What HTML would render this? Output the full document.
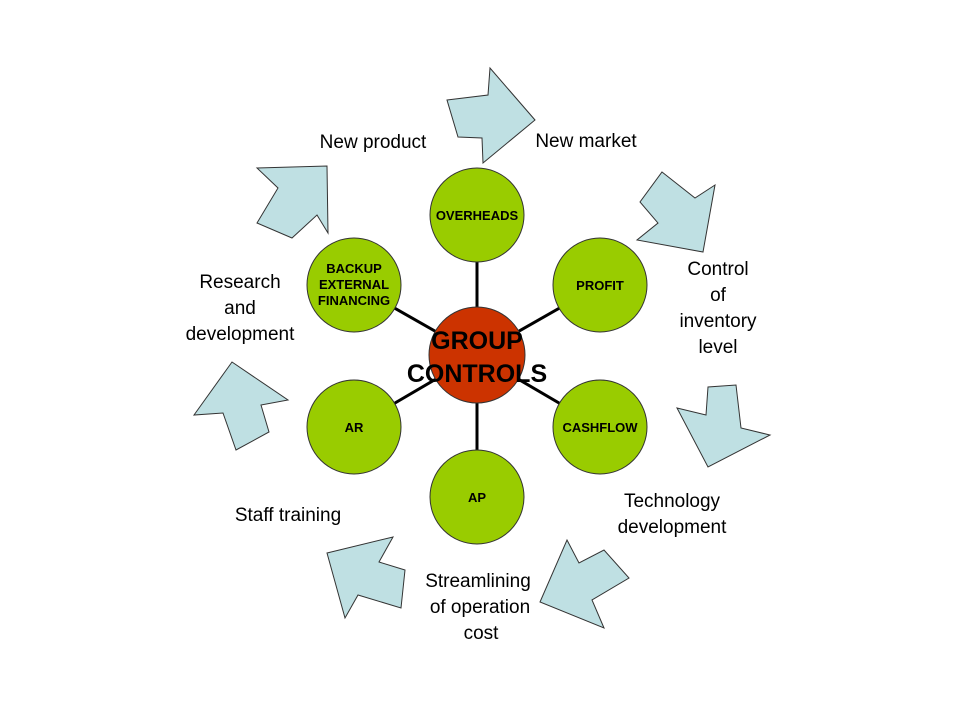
<!DOCTYPE html>
<html><head><meta charset="utf-8"><style>
html,body{margin:0;padding:0;background:#fff;}
svg{display:block;}
text{font-family:"Liberation Sans",Arial,sans-serif;}
.lbl{font-size:19px;fill:#000;text-anchor:middle;}
.c{font-size:13px;font-weight:bold;fill:#000;text-anchor:middle;}
</style></head><body>
<svg width="960" height="720" viewBox="0 0 960 720" xmlns="http://www.w3.org/2000/svg">
<g fill="#bfe0e3" stroke="#333" stroke-width="1">
<polygon points="447,100 488,95 490,68 535,120 483,163 482,138 458,137"/>
<polygon points="257,168 327,166 328,233 317,215 292,238 257,223 278,188"/>
<polygon points="662,172 695,198 715,185 703,252 637,240 658,223 640,202"/>
<polygon points="232,362 288,400 261,405 269,432 236,450 223,413 194,415"/>
<polygon points="677,408 706,415 708,387 736,385 741,428 770,435 708,467"/>
<polygon points="567,540 579,563 604,550 629,578 592,600 604,628 540,602"/>
<polygon points="393,537 379,562 405,570 401,608 358,595 345,618 327,553"/>
</g>
<g stroke="#000" stroke-width="3">
<line x1="477" y1="355" x2="477" y2="215"/>
<line x1="477" y1="355" x2="477" y2="497"/>
<line x1="477" y1="355" x2="600" y2="285"/>
<line x1="477" y1="355" x2="600" y2="427"/>
<line x1="477" y1="355" x2="354" y2="285"/>
<line x1="477" y1="355" x2="354" y2="427"/>
</g>
<g fill="#99cc00" stroke="#333" stroke-width="1">
<circle cx="477" cy="215" r="47"/>
<circle cx="600" cy="285" r="47"/>
<circle cx="600" cy="427" r="47"/>
<circle cx="477" cy="497" r="47"/>
<circle cx="354" cy="427" r="47"/>
<circle cx="354" cy="285" r="47"/>
</g>
<circle cx="477" cy="355" r="48" fill="#cc3300" stroke="#333" stroke-width="1"/>
<text class="c" x="477" y="220">OVERHEADS</text>
<text class="c" x="600" y="290">PROFIT</text>
<text class="c" x="600" y="432">CASHFLOW</text>
<text class="c" x="477" y="502">AP</text>
<text class="c" x="354" y="432">AR</text>
<text class="c" x="354" y="273">BACKUP</text>
<text class="c" x="354" y="289">EXTERNAL</text>
<text class="c" x="354" y="305">FINANCING</text>
<text x="477" y="349" font-size="25" font-weight="bold" text-anchor="middle">GROUP</text>
<text x="477" y="382" font-size="25" font-weight="bold" text-anchor="middle">CONTROLS</text>
<text class="lbl" x="373" y="148">New product</text>
<text class="lbl" x="586" y="147">New market</text>
<text class="lbl" x="718" y="275">Control</text>
<text class="lbl" x="718" y="301">of</text>
<text class="lbl" x="718" y="327">inventory</text>
<text class="lbl" x="718" y="353">level</text>
<text class="lbl" x="240" y="288">Research</text>
<text class="lbl" x="240" y="314">and</text>
<text class="lbl" x="240" y="340">development</text>
<text class="lbl" x="672" y="507">Technology</text>
<text class="lbl" x="672" y="533">development</text>
<text class="lbl" x="288" y="521">Staff training</text>
<text class="lbl" x="478" y="587">Streamlining</text>
<text class="lbl" x="480" y="613">of operation</text>
<text class="lbl" x="481" y="639">cost</text>
</svg>
</body></html>
